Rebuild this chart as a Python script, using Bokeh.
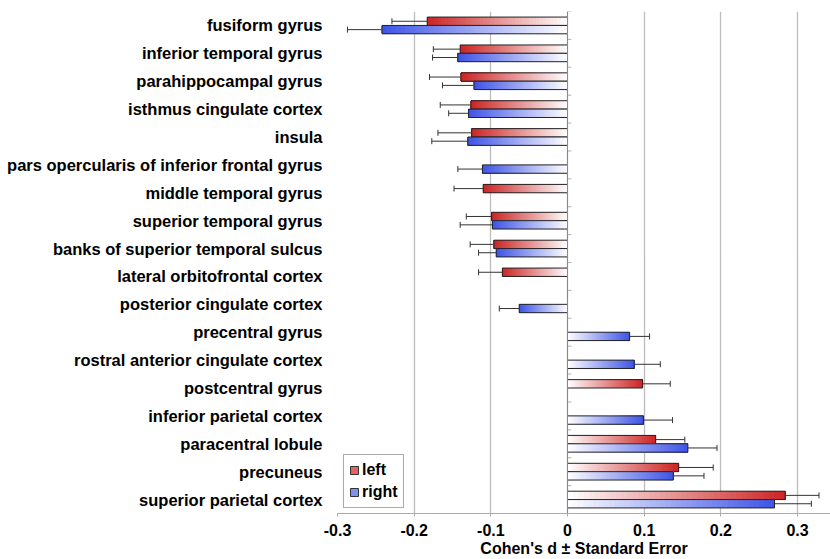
import numpy as np
from bokeh.plotting import figure
from bokeh.models import (ColumnDataSource, FixedTicker, Whisker, TeeHead, Span,
                          Legend, LegendItem, Range1d)
from bokeh.embed import file_html
from bokeh.resources import INLINE

# ---------------- data ----------------
regions = [
    "fusiform gyrus", "inferior temporal gyrus", "parahippocampal gyrus",
    "isthmus cingulate cortex", "insula", "pars opercularis of inferior frontal gyrus",
    "middle temporal gyrus", "superior temporal gyrus", "banks of superior temporal sulcus",
    "lateral orbitofrontal cortex", "posterior cingulate cortex", "precentral gyrus",
    "rostral anterior cingulate cortex", "postcentral gyrus", "inferior parietal cortex",
    "paracentral lobule", "precuneus", "superior parietal cortex",
]
left_d = [-0.183, -0.140, -0.139, -0.126, -0.125, None, -0.110, -0.099, -0.096,
          -0.085, None, None, None, 0.098, None, 0.115, 0.145, 0.284]
left_se = [0.046, 0.035, 0.041, 0.040, 0.044, None, 0.038, 0.033, 0.031,
           0.031, None, None, None, 0.036, None, 0.038, 0.045, 0.044]
right_d = [-0.242, -0.143, -0.122, -0.129, -0.130, -0.111, None, -0.098, -0.093,
           None, -0.063, 0.081, 0.087, None, 0.099, 0.157, 0.138, 0.270]
right_se = [0.045, 0.033, 0.041, 0.026, 0.047, 0.032, None, 0.042, 0.023,
            None, 0.026, 0.026, 0.034, None, 0.038, 0.038, 0.040, 0.048]
series_names = ["left", "right"]
x_ticks = [-0.3, -0.2, -0.1, 0, 0.1, 0.2, 0.3]
x_tick_labels = ["-0.3", "-0.2", "-0.1", "0", "0.1", "0.2", "0.3"]
x_title = "Cohen's d \u00b1 Standard Error"

# ---------------- style ----------------
FONT = "Liberation Sans"
RED = (204, 36, 36)
BLUE = (62, 84, 230)
BAR_H = 0.3
NSLICE = 40
n = len(regions)

p = figure(width=830, height=559, output_backend="svg", toolbar_location=None,
           x_range=Range1d(-0.3, 0.343), y_range=Range1d(-0.5, n - 0.5),
           min_border_left=337, min_border_right=0, min_border_top=11, min_border_bottom=0)
p.outline_line_color = None
p.background_fill_color = "white"
p.border_fill_color = "white"


def hexcol(rgb, t):
    c = [int(round(255 + (v - 255) * t)) for v in rgb]
    return "#%02x%02x%02x" % tuple(c)


def draw_series(vals, ses, offset, rgb):
    sl = {"y": [], "x0": [], "x1": [], "color": []}
    bars = {"y": [], "v": [], "lo": [], "hi": []}
    for k, (v, s) in enumerate(zip(vals, ses)):
        if v is None:
            continue
        y = n - 1 - k + offset
        for i in range(NSLICE):
            sl["y"].append(y)
            sl["x0"].append(v * i / NSLICE)
            sl["x1"].append(v)
            sl["color"].append(hexcol(rgb, (i + 0.5) / NSLICE))
        bars["y"].append(y)
        bars["v"].append(v)
        bars["lo"].append(v - s)
        bars["hi"].append(v + s)
    p.hbar(y="y", left="x0", right="x1", height=BAR_H, fill_color="color",
           line_color=None, source=ColumnDataSource(sl))
    src = ColumnDataSource(bars)
    p.hbar(y="y", left=0, right="v", height=BAR_H, fill_color=None,
           line_color="#222222", line_width=1, source=src)
    w = Whisker(source=src, base="y", lower="lo", upper="hi", dimension="width",
                line_color="#333333", line_width=1,
                lower_head=TeeHead(size=6, line_color="#333333", line_width=1),
                upper_head=TeeHead(size=6, line_color="#333333", line_width=1))
    p.add_layout(w)


draw_series(left_d, left_se, BAR_H / 2, RED)
draw_series(right_d, right_se, -BAR_H / 2, BLUE)

# zero line with small category ticks
p.add_layout(Span(location=0, dimension="height", line_color="#8a8a8a", line_width=1))
bounds = [k - 0.5 for k in range(n + 1)]
p.segment(x0=[0] * len(bounds), x1=[0.005] * len(bounds), y0=bounds, y1=bounds,
          line_color="#b0b0b0", line_width=1)

# legend (proxy glyphs, not drawn in the plot area)
nan = float("nan")
rl = p.rect(x=[nan], y=[nan], width=0.01, height=0.3, fill_color="#e26464", line_color="#333333")
rr = p.rect(x=[nan], y=[nan], width=0.01, height=0.3, fill_color="#7e90f0", line_color="#333333")
legend = Legend(items=[LegendItem(label=series_names[0], renderers=[rl]),
                       LegendItem(label=series_names[1], renderers=[rr])],
                location=(6, 5), orientation="vertical")
legend.border_line_color = "#555555"
legend.border_line_width = 1
legend.background_fill_color = "white"
legend.background_fill_alpha = 1
legend.padding = 5
legend.spacing = 2
legend.margin = 0
legend.glyph_width = 10
legend.glyph_height = 10
legend.label_standoff = 3
legend.label_height = 20
legend.label_text_font = FONT
legend.label_text_font_size = "16px"
legend.label_text_font_style = "bold"
legend.label_text_color = "black"
p.add_layout(legend)

# axes
xa = p.xaxis[0]
xa.ticker = FixedTicker(ticks=x_ticks)
xa.major_label_overrides = {t: s for t, s in zip(x_ticks, x_tick_labels)}
xa.minor_tick_line_color = None
xa.axis_line_color = "#aaaaaa"
xa.major_tick_line_color = "#aaaaaa"
xa.major_tick_in = 0
xa.major_tick_out = 3
xa.major_label_standoff = 7
xa.major_label_text_font = FONT
xa.major_label_text_font_size = "16px"
xa.major_label_text_font_style = "bold"
xa.major_label_text_color = "black"
xa.axis_label = x_title
xa.axis_label_text_font = FONT
xa.axis_label_text_font_size = "16px"
xa.axis_label_text_font_style = "bold"
xa.axis_label_text_color = "black"
xa.axis_label_standoff = 1

ya = p.yaxis[0]
ya.ticker = FixedTicker(ticks=list(range(n)))
ya.major_label_overrides = {n - 1 - k: r for k, r in enumerate(regions)}
ya.minor_tick_line_color = None
ya.major_tick_line_color = None
ya.major_tick_in = 0
ya.major_tick_out = 0
ya.axis_line_color = None
ya.major_label_standoff = 15
ya.major_label_text_font = FONT
ya.major_label_text_font_size = "16.5px"
ya.major_label_text_font_style = "bold"
ya.major_label_text_color = "black"

p.ygrid.grid_line_color = None
p.xgrid.grid_line_color = "#bdbdbd"
p.xgrid.grid_line_width = 1.3

open("out.html", "w").write(file_html(p, INLINE))
